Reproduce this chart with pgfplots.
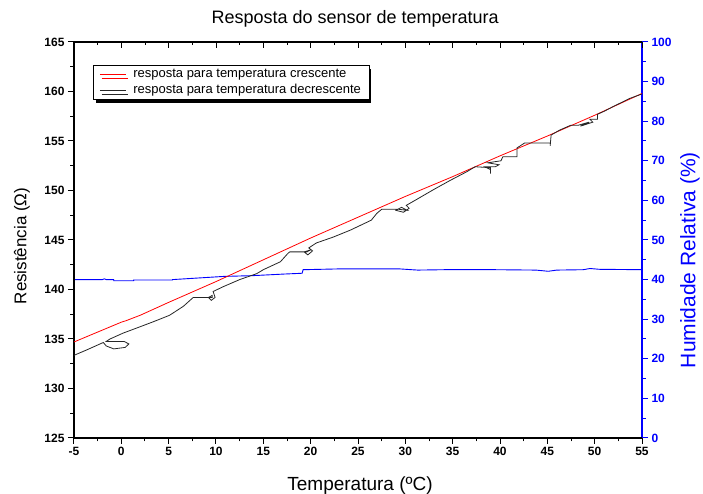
\documentclass[border=0pt]{standalone}
\usepackage{fontspec}
\setmainfont{Liberation Sans}
\usepackage{pgfplots}
\pgfplotsset{compat=1.18}
\usetikzlibrary{shadows}

\begin{document}
\begin{tikzpicture}
\pgfplotsset{
  common/.style={
    width=568pt, height=396pt, scale only axis,
    xmin=-5, xmax=55,
    /pgf/number format/assume math mode=true,
    ticklabel style={font=\fontsize{12}{13}\selectfont\bfseries},
    major tick length=6pt, minor tick length=3.5pt,
  },
}
% humidity, right axis
\begin{axis}[common,
    ymin=0, ymax=100, ytick={0,10,...,100}, minor y tick num=1,
    axis y line*=right, axis x line=none,
    tick align=outside,
    y axis line style={blue, line width=1.3pt},
    every y tick/.style={blue, line width=1pt},
    every minor y tick/.style={blue, line width=1pt},
    yticklabel style={blue},
    ylabel={Humidade Relativa (\%)},
    ylabel style={blue, font=\fontsize{21}{23}\selectfont, at={(axis description cs:1.0845,0.449)}, anchor=center, rotate=0},
]
\addplot[blue, line width=0.9pt] coordinates {
(-5,40.0) (-2.0,40.0) (-1.8,40.2) (-1.6,40.0) (-0.8,40.0) (-0.8,39.7) (1.3,39.7) (1.3,39.9)
(5.4,39.9) (5.4,40.0) (8.1,40.4) (10.8,40.8) (13.9,41.0) (17.2,41.4) (19.1,41.6) (19.2,42.5)
(23.0,42.7) (29.4,42.7) (31.3,42.4) (34.1,42.5) (39.5,42.5) (43.8,42.4) (45.1,42.1) (46,42.4)
(48.8,42.5) (49.5,42.8) (50.5,42.6) (55,42.5)
};
\end{axis}
% top ticks, inside
\begin{axis}[common,
    ymin=125, ymax=165,
    axis x line*=top, axis y line=none,
    tick align=inside,
    xtick={-5,0,...,55}, minor x tick num=1, xticklabels={},
    x axis line style={line width=1.3pt},
    every x tick/.style={black, line width=1pt},
    every minor x tick/.style={black, line width=1pt},
]
\end{axis}
% resistance, left axis
\begin{axis}[common, name=main,
    ymin=125, ymax=165,
    xtick={-5,0,...,55}, minor x tick num=1,
    ytick={125,130,...,165}, minor y tick num=1,
    axis x line*=bottom, axis y line*=left,
    tick align=outside,
    axis line style={line width=1.3pt},
    every tick/.style={black, line width=1pt},
    every minor tick/.style={black, line width=1pt},
    xlabel={Temperatura (ºC)},
    xlabel style={font=\fontsize{19}{21}\selectfont, at={(axis description cs:0.5035,-0.121)}, anchor=center},
    ylabel={Resistência (Ω)},
    ylabel style={font=\fontsize{17}{19}\selectfont, at={(axis description cs:-0.0915,0.485)}, anchor=center, rotate=0},
    title={Resposta do sensor de temperatura},
    title style={font=\fontsize{18}{20}\selectfont, at={(axis description cs:0.495,1.044)}, anchor=center},
    legend style={at={(axis description cs:0.034,0.942)}, anchor=north west,
      draw=black, fill=white, font=\fontsize{13}{15}\selectfont,
      drop shadow={shadow xshift=2pt, shadow yshift=-4pt, fill=black, opacity=1},
      row sep=1.5pt, column sep=5pt, inner xsep=6pt, inner ysep=2pt},
    legend cell align=left,
    legend image code/.code={\draw[#1] plot coordinates {(0pt,0pt) (13pt,0pt) (26pt,0pt)};},
]
\addplot[red, line width=0.8pt] coordinates {
(-5,134.7) (-2,135.9) (-0.5,136.5) (0,136.7) (0.5,136.85) (2,137.4) (5,138.7) (10,140.8)
(15,143.0) (20,145.2) (25,147.3) (30,149.4) (35,151.4) (37.5,152.45) (40,153.5) (45,155.5)
(50,157.6) (55,159.8)
};
\addlegendentry{resposta para temperatura crescente}
\addplot[black!85, line width=0.8pt] coordinates {
(55,159.75) (53.7,159.3) (52.0,158.5) (51.0,158.0) (50.3,157.7) (50.3,157.2) (49.5,157.2)
(49.8,156.9) (48.5,156.5) (49.4,156.9) (48.3,156.6) (47.5,156.6) (46.3,156.1) (45.4,155.6)
(45.3,154.5) (45.3,154.8) (42.6,154.8) (41.8,154.3) (41.8,153.4) (40.3,153.4) (40.1,153.0)
(38.7,152.8) (39.9,152.6) (39.5,152.4) (38.4,152.4) (39.0,152.1) (39.0,151.7) (39.0,152.3)
(37.4,152.4) (37.2,152.3) (36.5,151.9) (34.7,151.0) (33.0,150.1) (31.2,149.1) (30.1,148.5)
(30.4,148.2) (29.8,147.8) (29.0,148.0) (29.6,148.3) (30.2,148.0) (29.3,148.1) (27.5,148.1)
(27.0,147.7) (26.4,147.0) (24.2,146.0) (22.4,145.3) (20.6,144.7) (19.8,144.2) (20.2,143.9)
(19.7,143.5) (19.3,143.8) (20.0,144.0) (19.6,143.8) (17.8,143.8) (17.6,143.65) (16.8,142.8)
(15.0,142.0) (14.3,141.6) (12.5,141.0) (10.8,140.3) (9.7,139.8) (9.9,139.2) (9.5,138.9)
(9.2,139.2) (9.6,139.4) (9.6,139.2) (7.6,139.2) (7.25,138.9) (6.55,138.3) (5.1,137.4)
(3.4,136.75) (1.6,136.1) (0.2,135.6) (-0.5,135.3) (-1.2,135.0) (-1.6,134.75) (0.3,134.75)
(0.8,134.5) (0.4,134.15) (-0.8,134.0) (-1.6,134.3) (-1.9,134.65) (-3.65,133.9) (-5,133.35)
};
\addlegendentry{resposta para temperatura decrescente}
\end{axis}
\pgfresetboundingbox
\path ([xshift=-74pt,yshift=-56pt]main.south west) rectangle ([xshift=61pt,yshift=42pt]main.north east);
\end{tikzpicture}
\end{document}
